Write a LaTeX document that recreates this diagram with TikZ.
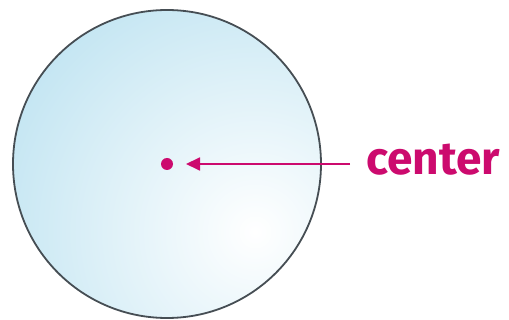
\documentclass[tikz,border=0pt]{standalone}
\usepackage{fontspec}
\setmainfont{Fira Sans}
\usetikzlibrary{arrows.meta}
\definecolor{mag}{RGB}{204,10,110}
\definecolor{skyb}{RGB}{176,221,238}
\definecolor{rim}{RGB}{70,78,84}
\tikzset{
  outline/.style={draw=rim, line width=1.8pt},
  cdot/.style={circle, fill=mag, inner sep=0pt, minimum size=12pt},
  lbl/.style={text=mag, font=\fontsize{46}{50}\selectfont\bfseries, inner sep=0pt, anchor=west},
  pointer/.style={draw=mag, line width=1.8pt, -{Triangle[length=14pt,width=13pt]}}
}
\begin{document}
\begin{tikzpicture}[x=1pt,y=-1pt]
\useasboundingbox (0,0) rectangle (509,320);
\fill[white] (0,0) rectangle (509,320);
\begin{scope}
  \clip (167,164) circle (154);
  \shade[inner color=white, outer color=skyb] (255,232) circle (360);
\end{scope}
\draw[outline] (167,164) circle (154);
\node[cdot] (c) at (167,164) {};
\node[lbl] (t) at (366,160) {center};
\draw[pointer] ([xshift=-16pt]t.west |- c) -- ([xshift=19pt]c.center);
\end{tikzpicture}
\end{document}
